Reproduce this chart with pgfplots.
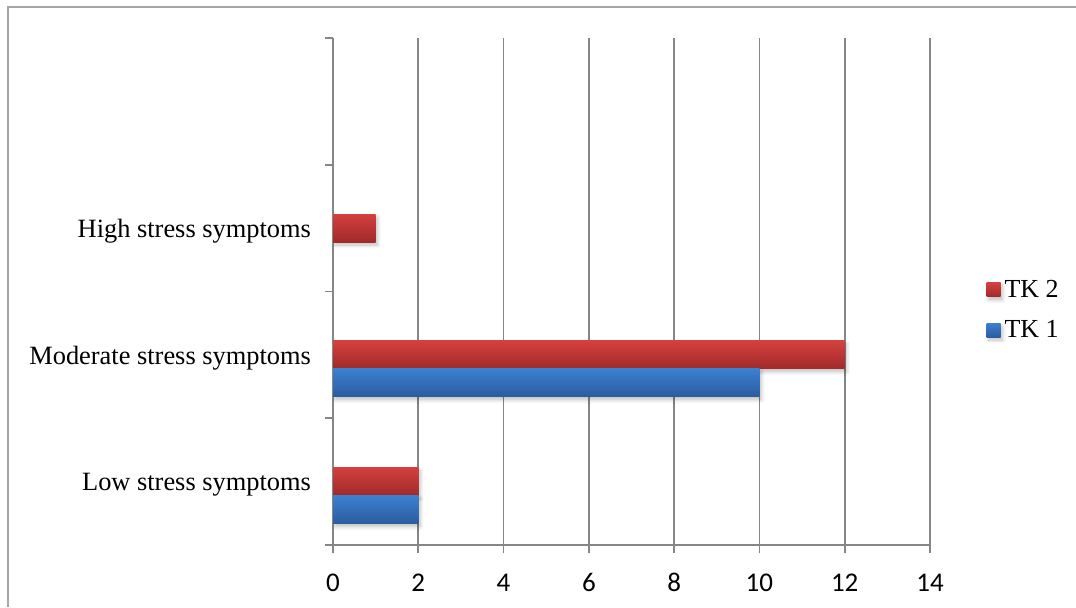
\documentclass[border=0pt]{standalone}
\usepackage{fontspec}
\setmainfont{Liberation Serif}
\newfontfamily\calibri{Carlito}
\usepackage{pgfplots}
\pgfplotsset{compat=1.18}
\usetikzlibrary{shadows.blur}

\definecolor{redtop}{RGB}{212,64,62}
\definecolor{redbot}{RGB}{160,42,42}
\definecolor{bluetop}{RGB}{60,128,208}
\definecolor{bluebot}{RGB}{43,92,158}
\definecolor{gridgray}{RGB}{134,134,134}
\definecolor{framegray}{RGB}{166,166,166}

\pgfplotsset{
  tkred/.style={draw=none, top color=redtop, bottom color=redbot, bar shift=0pt,
    blur shadow={shadow xshift=1pt, shadow yshift=-1.5pt, shadow blur steps=6, shadow opacity=25}},
  tkblue/.style={draw=none, top color=bluetop, bottom color=bluebot, bar shift=-14pt,
    blur shadow={shadow xshift=1pt, shadow yshift=-1.5pt, shadow blur steps=6, shadow opacity=25}},
}

\begin{document}
\begin{tikzpicture}
% page = 1076 x 607 px, 1px = 0.5pt
\useasboundingbox (0,0) rectangle (538pt,303.5pt);
\draw[framegray, line width=1pt] (4pt,0) -- (4pt,300pt) -- (538pt,300pt);

\begin{axis}[
  at={(166.5pt,31pt)},
  anchor=south west,
  scale only axis,
  width=298.5pt,
  height=253.5pt,
  xbar,
  bar width=14pt,
  xmin=0, xmax=14,
  ymin=-0.5, ymax=3.5,
  xtick={0,2,...,14},
  ytick={-0.5,0.5,1.5,2.5,3.5},
  yticklabels={Low stress symptoms,Moderate stress symptoms,High stress symptoms,{}},
  y tick label as interval,
  axis lines=left,
  axis line style={-, draw=gridgray, line width=0.8pt},
  tick style={draw=gridgray, line width=0.8pt},
  tick align=outside,
  major tick length=4pt,
  xmajorgrids,
  grid style={draw=gridgray, line width=0.8pt},
  xticklabel style={font=\calibri\fontsize{13.5}{15}\selectfont, anchor=north,
    text height=9.5pt, text depth=0pt, yshift=-6pt},
  yticklabel style={font=\rmfamily\fontsize{13.2}{15}\selectfont, xshift=-3.5pt, yshift=-1.5pt},
  /pgf/number format/assume math mode=true,
  legend style={at={(1.084,0.4635)}, anchor=west, draw=none, fill=none,
    font=\rmfamily\fontsize{13}{15}\selectfont, row sep=6pt,
    /tikz/every even column/.append style={column sep=3pt}},
  legend cell align=left,
  legend image code/.code={\path[#1, draw=none] (0pt,-3.5pt) rectangle (7pt,3.5pt);},
]

% TK 2 (red), one bar per plot so each bar gets its own shading
\addplot[tkred] coordinates {(2,0)};
\addplot[tkred, forget plot] coordinates {(12,1)};
\addplot[tkred, forget plot] coordinates {(1,2)};

% TK 1 (blue)
\addplot[tkblue] coordinates {(2,0)};
\addplot[tkblue, forget plot] coordinates {(10,1)};

\legend{TK 2, TK 1}
\end{axis}
\end{tikzpicture}
\end{document}
